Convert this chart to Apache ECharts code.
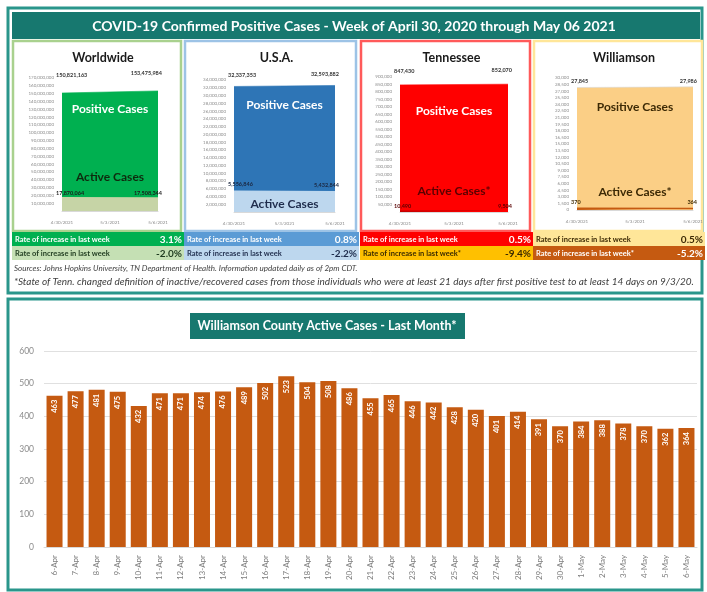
<!DOCTYPE html>
<html>
<head>
<meta charset="utf-8">
<script src="https://cdn.jsdelivr.net/npm/echarts@6/dist/echarts.min.js"></script>
<style>
html,body{margin:0;padding:0;background:#fff;}
#c{width:707px;height:592px;}
</style>
</head>
<body>
<div id="c"></div>
<script>
// ---------- DATA ----------
const mainTitle = 'COVID-19 Confirmed Positive Cases - Week of April 30, 2020 through May 06 2021';
const chartTitle = 'Williamson County Active Cases - Last Month*';
const dates = ['6-Apr','7-Apr','8-Apr','9-Apr','10-Apr','11-Apr','12-Apr','13-Apr','14-Apr','15-Apr','16-Apr','17-Apr','18-Apr','19-Apr','20-Apr','21-Apr','22-Apr','23-Apr','24-Apr','25-Apr','26-Apr','27-Apr','28-Apr','29-Apr','30-Apr','1-May','2-May','3-May','4-May','5-May','6-May'];
const activeCases = [463,477,481,475,432,471,471,474,476,489,502,523,504,508,486,455,465,446,442,428,420,401,414,391,370,384,388,378,370,362,364];
const yTicks = [0,100,200,300,400,500,600];

const panelNames = ['Worldwide','U.S.A.','Tennessee','Williamson'];
const panelDates = ['4/30/2021','5/3/2021','5/6/2021'];
const panelDays = [0, 6];
const worldwidePositive = [150821163, 153475984];
const worldwideActive = [17870064, 17508344];
const usaPositive = [32337353, 32593882];
const usaActive = [5556846, 5432844];
const tennesseePositive = [847430, 852070];
const tennesseeActive = [10490, 9504];
const williamsonPositive = [27845, 27986];
const williamsonActive = [370, 364];
const positiveRates = ['3.1%','0.8%','0.5%','0.5%'];
const activeRates = ['-2.0%','-2.2%','-9.4%','-5.2%'];
const positiveRateLabels = ['Rate of increase in last week','Rate of increase in last week','Rate of increase in last week','Rate of increase in last week'];
const activeRateLabels = ['Rate of increase in last week','Rate of increase in last week','Rate of increase in last week*','Rate of increase in last week*'];
const axisMax = [170000000, 34000000, 900000, 30000];
const axisStep = [10000000, 2000000, 50000, 1500];
const activeTitles = ['Active Cases','Active Cases','Active Cases*','Active Cases*'];
const footnote1 = 'Sources: Johns Hopkins University, TN Department of Health. Information updated daily as of 2pm CDT.';
const footnote2 = '*State of Tenn. changed definition of inactive/recovered cases from those individuals who were at least 21 days after first positive test to at least 14 days on 9/3/20.';

// ---------- LAYOUT / STYLE ----------
const FONT = 'Lato, "Open Sans", sans-serif';
const teal = '#17786f';
const panels = [
  {x:12, w:170, border:'#a9d18e', grid:{left:62, top:78, width:96, height:133},
   pos:'#00b050', act:'#c6d4a6', posText:'#ffffff', actText:'#0e2a0e', valText:'#1a1a1a',
   r1:'#00b050', r1t:'#ffffff', r2:'#c5e0b4', r2t:'#1e3a1e', posDist:15, actDist:1,
   posTextY:109, actTextY:177},
  {x:184, w:173, border:'#9dc3e6', grid:{left:234, top:80, width:101, height:132},
   pos:'#2e75b6', act:'#bdd7ee', posText:'#ffffff', actText:'#1f2d4d', valText:'#1b2740',
   r1:'#5b9bd5', r1t:'#ffffff', r2:'#bdd7ee', r2t:'#1f2d4d', posDist:8, actDist:3,
   posTextY:105, actTextY:204},
  {x:360, w:171, border:'#ff5a5a', grid:{left:400, top:77, width:108, height:135},
   pos:'#ff0000', act:'#c00000', posText:'#ffffff', actText:'#5a0000', valText:'#5a0000',
   r1:'#ff0000', r1t:'#ffffff', r2:'#ffc000', r2t:'#3a2a00', posDist:11, actDist:1,
   posTextY:111, actTextY:191},
  {x:533, w:170, border:'#ffe699', grid:{left:577, top:78, width:116, height:132},
   pos:'#fbcf86', act:'#c55a11', posText:'#3d2a05', actText:'#3d2a05', valText:'#3d2a05',
   r1:'#ffe699', r1t:'#3d2a05', r2:'#c55a11', r2t:'#ffffff', posDist:3, actDist:3,
   posTextY:107, actTextY:192}
];
const positives = [worldwidePositive, usaPositive, tennesseePositive, williamsonPositive];
const actives = [worldwideActive, usaActive, tennesseeActive, williamsonActive];

const fmt = v => Number(v).toLocaleString('en-US');

const grids = [], xAxes = [], yAxes = [], series = [], graphic = [];

// outer frames (drawn behind everything)
graphic.push({type:'rect', z:-20, shape:{x:8,y:8,width:694,height:285}, style:{fill:'#ffffff', stroke:'#2a968b', lineWidth:3}});
graphic.push({type:'rect', z:-15, shape:{x:12,y:12,width:688,height:27}, style:{fill:teal}});
graphic.push({type:'text', z:5, style:{x:354,y:26,text:mainTitle, fill:'#ffffff', font:'bold 14px '+FONT, textAlign:'center', textVerticalAlign:'middle'}});
graphic.push({type:'rect', z:-20, shape:{x:8,y:299,width:694,height:291}, style:{fill:'#ffffff', stroke:'#2a968b', lineWidth:3}});
graphic.push({type:'rect', z:-15, shape:{x:190,y:313,width:275,height:26}, style:{fill:teal}});
graphic.push({type:'text', z:5, style:{x:327,y:326,text:chartTitle, fill:'#ffffff', font:'bold 12.5px '+FONT, textAlign:'center', textVerticalAlign:'middle'}});
graphic.push({type:'text', z:5, style:{x:14,y:268,text:footnote1, fill:'#404040', font:'italic 8px '+FONT, textVerticalAlign:'middle'}});
graphic.push({type:'text', z:5, style:{x:14,y:282,text:footnote2, fill:'#404040', font:'italic 10px '+FONT, textVerticalAlign:'middle'}});

panels.forEach((p, i) => {
  const cx = p.x + p.w / 2;
  const gcx = p.grid.left + p.grid.width / 2;
  graphic.push({type:'rect', z:-10, shape:{x:p.x+1, y:41, width:p.w-2, height:190}, style:{fill:'#ffffff', stroke:p.border, lineWidth:2.5}});
  graphic.push({type:'text', z:5, style:{x:cx+6, y:58, text:panelNames[i], fill:'#1a1a1a', font:'bold 12.5px '+FONT, textAlign:'center', textVerticalAlign:'middle'}});
  graphic.push({type:'text', z:50, style:{x:gcx, y:p.posTextY, text:'Positive Cases', fill:p.posText, font:'bold 12px '+FONT, textAlign:'center', textVerticalAlign:'middle'}});
  graphic.push({type:'text', z:50, style:{x:gcx, y:p.actTextY, text:activeTitles[i], fill:p.actText, font:'bold 12px '+FONT, textAlign:'center', textVerticalAlign:'middle'}});
  // rate rows
  graphic.push({type:'rect', z:-10, shape:{x:p.x, y:232, width:p.w+2, height:14}, style:{fill:p.r1}});
  graphic.push({type:'rect', z:-10, shape:{x:p.x, y:246, width:p.w+2, height:14}, style:{fill:p.r2}});
  graphic.push({type:'text', z:5, style:{x:p.x+3, y:239.5, text:positiveRateLabels[i], fill:p.r1t, font:'bold 7.5px '+FONT, textVerticalAlign:'middle'}});
  graphic.push({type:'text', z:5, style:{x:p.x+p.w, y:239.5, text:positiveRates[i], fill:p.r1t, font:'bold 10px '+FONT, textAlign:'right', textVerticalAlign:'middle'}});
  graphic.push({type:'text', z:5, style:{x:p.x+3, y:253.5, text:activeRateLabels[i], fill:p.r2t, font:'bold 7.5px '+FONT, textVerticalAlign:'middle'}});
  graphic.push({type:'text', z:5, style:{x:p.x+p.w, y:253.5, text:activeRates[i], fill:p.r2t, font:'bold 10px '+FONT, textAlign:'right', textVerticalAlign:'middle'}});

  grids.push(Object.assign({containLabel:false}, p.grid));
  xAxes.push({type:'value', gridIndex:i, min:0, max:6, interval:3, z:10,
    axisLine:{show:true, lineStyle:{color:'#d9d9d9'}}, axisTick:{show:false}, splitLine:{show:false},
    axisLabel:{fontSize:4.5, color:'#8c8c8c', margin:9, fontFamily:FONT, formatter:v => panelDates[Math.round(v/3)] || ''}});
  yAxes.push({type:'value', gridIndex:i, min:0, max:axisMax[i], interval:axisStep[i], z:10,
    axisLine:{show:false}, axisTick:{show:false}, splitLine:{show:false},
    axisLabel:{fontSize:4.5, color:'#8c8c8c', margin:8, fontFamily:FONT, formatter:v => fmt(v), showMinLabel: i === 3}});
  const mk = (arr, dist, color, size) => arr.map((v, k) => ({
    value:[panelDays[k], v],
    label:{show:true, position:'top', distance:dist, align:k === 0 ? 'left' : 'right', offset:[k === 0 ? -6 : 4, 0],
      formatter:fmt(v), fontSize:size, fontWeight:'bold', color:color, fontFamily:FONT}
  }));
  series.push({type:'line', xAxisIndex:i, yAxisIndex:i, data:mk(positives[i], p.posDist, '#333333', 5.5),
    symbol:'circle', symbolSize:0.1, showSymbol:true, lineStyle:{width:0.6, color: i===3 ? '#d9d9d9' : p.pos},
    itemStyle:{color:p.pos}, areaStyle:{color:p.pos, opacity:1}, z:2, animation:false});
  series.push({type:'line', xAxisIndex:i, yAxisIndex:i, data:mk(actives[i], p.actDist, p.valText, 5.5),
    symbol:'circle', symbolSize:0.1, showSymbol:true, lineStyle:{width: i===3 ? 1.5 : 0, color:p.act},
    itemStyle:{color:p.act}, areaStyle:{color:p.act, opacity:1}, z:3, animation:false});
});

// main bar chart
const gi = panels.length;
grids.push({left:44, right:10, top:351, bottom:45, containLabel:false});
xAxes.push({type:'category', gridIndex:gi, data:dates, axisLine:{show:true, lineStyle:{color:'#d9d9d9'}}, axisTick:{show:false},
  axisLabel:{rotate:90, fontSize:8, color:'#7f7f7f', margin:8, interval:0, fontFamily:FONT}});
yAxes.push({type:'value', gridIndex:gi, min:yTicks[0], max:yTicks[yTicks.length-1], interval:yTicks[1]-yTicks[0],
  axisLine:{show:false}, axisTick:{show:false},
  splitLine:{lineStyle:{color:'#e0e0e0', width:1}},
  axisLabel:{fontSize:8.5, color:'#8c8c8c', margin:10, fontFamily:FONT}});
series.push({type:'bar', xAxisIndex:gi, yAxisIndex:gi, data:activeCases, barCategoryGap:'24%',
  itemStyle:{color:'#c55a11'}, animation:false,
  label:{show:true, position:'insideTop', rotate:90, align:'right', verticalAlign:'middle', distance:4,
    color:'#ffffff', fontSize:7.5, fontWeight:'bold', fontFamily:FONT}});

const chart = echarts.init(document.getElementById('c'), null, {renderer:'canvas'});
chart.setOption({animation:false, backgroundColor:'#ffffff', textStyle:{fontFamily:FONT},
  grid:grids, xAxis:xAxes, yAxis:yAxes, series:series, graphic:{elements:graphic}});
</script>
</body>
</html>
